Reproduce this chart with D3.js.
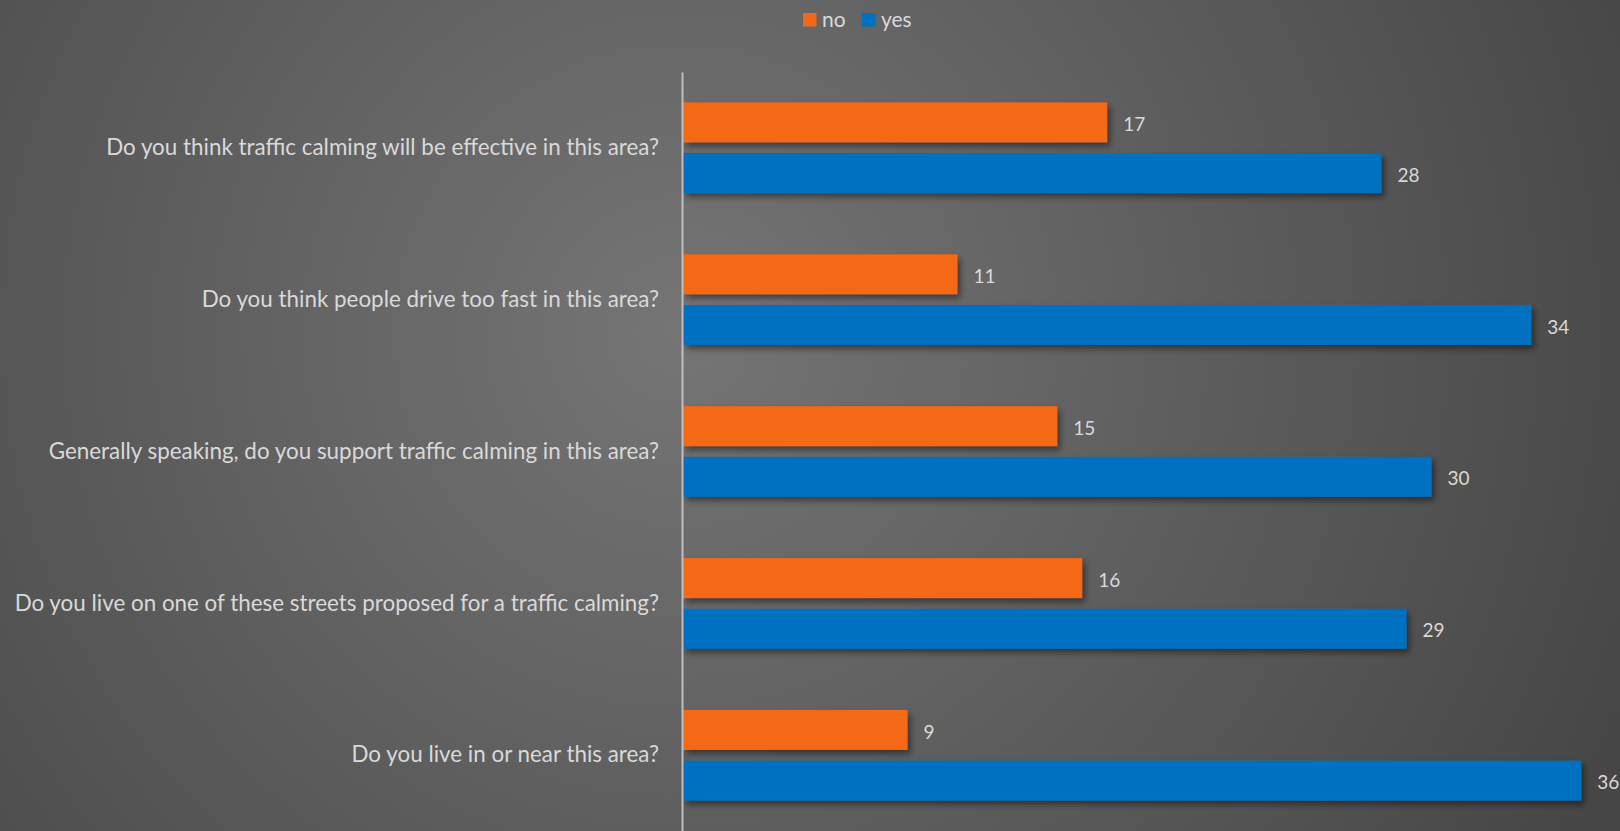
<!DOCTYPE html>
<html>
<head>
<meta charset="utf-8">
<script src="https://cdn.jsdelivr.net/npm/d3@7"></script>
<style>
  html, body { margin: 0; padding: 0; background: #4a4a4a; }
  svg { display: block; }
  text { font-family: Lato, "Open Sans", sans-serif; }
</style>
</head>
<body>
<svg id="chart" width="1620" height="831"></svg>
<script>
// Survey questions, top to bottom
const questions = [
  "Do you think traffic calming will be effective in this area?",
  "Do you think people drive too fast in this area?",
  "Generally speaking, do you support traffic calming in this area?",
  "Do you live on one of these streets proposed for a traffic calming?",
  "Do you live in or near this area?"
];
const seriesNames = ["no", "yes"];
const noValues  = [17, 11, 15, 16, 9];
const yesValues = [28, 34, 30, 29, 36];
const seriesColors = ["#F46717", "#0070C0"];

const W = 1620, H = 831;
const svg = d3.select("#chart");

// Background: soft radial grey gradient
const defs = svg.append("defs");
const bg = defs.append("radialGradient").attr("id", "bgGrad")
  .attr("gradientUnits", "userSpaceOnUse")
  .attr("cx", 680).attr("cy", 330).attr("r", 1050);
bg.append("stop").attr("offset", "0%").attr("stop-color", "#757575");
bg.append("stop").attr("offset", "100%").attr("stop-color", "#454545");
svg.append("rect").attr("width", W).attr("height", H).attr("fill", "url(#bgGrad)");

// Drop shadow under the bars
const sh = defs.append("filter").attr("id", "barShadow")
  .attr("x", "-5%").attr("y", "-30%").attr("width", "115%").attr("height", "180%");
sh.append("feDropShadow").attr("dx", 3).attr("dy", 4).attr("stdDeviation", 3)
  .attr("flood-color", "#000").attr("flood-opacity", 0.45);

const plotLeft = 683, plotTop = 72, plotBottom = 831;

const y = d3.scaleBand().domain(questions).range([plotTop, plotBottom])
  .paddingInner(0.403).paddingOuter(0.2);
const ySub = d3.scaleBand().domain(seriesNames).range([0, y.bandwidth()])
  .paddingInner(0.21);
const x = d3.scaleLinear().domain([0, 36]).range([plotLeft, plotLeft + 36 * 24.95]);

const rows = questions.map((q, i) => ({ q, vals: [noValues[i], yesValues[i]] }));

const groups = svg.append("g").selectAll("g").data(rows).join("g")
  .attr("transform", d => `translate(0,${y(d.q)})`);

groups.selectAll("rect").data(d => d.vals.map((v, j) => ({ v, s: seriesNames[j], c: seriesColors[j] })))
  .join("rect")
  .attr("x", x(0))
  .attr("y", d => ySub(d.s))
  .attr("width", d => x(d.v) - x(0))
  .attr("height", ySub.bandwidth())
  .attr("fill", d => d.c)
  .attr("filter", "url(#barShadow)");

// Value labels
groups.selectAll("text.val").data(d => d.vals.map((v, j) => ({ v, s: seriesNames[j] })))
  .join("text").attr("class", "val")
  .attr("x", d => x(d.v) + 16)
  .attr("y", d => ySub(d.s) + ySub.bandwidth() / 2 + 2)
  .attr("dy", "0.35em")
  .attr("fill", "#d9d9d9")
  .attr("font-size", 19)
  .text(d => d.v);

// Category axis
const yAxis = svg.append("g").attr("transform", `translate(${plotLeft - 1},0)`)
  .call(d3.axisLeft(y).tickSize(0).tickPadding(23));
yAxis.select(".domain").attr("stroke", "#bfbfbf").attr("stroke-width", 2);
yAxis.selectAll(".tick text")
  .attr("fill", "#d9d9d9")
  .attr("font-size", 22.4)
  .attr("font-family", "Lato, 'Open Sans', sans-serif");

// Legend
const legend = svg.append("g").attr("transform", "translate(803,13)");
const legendX = [0, 59];
seriesNames.forEach((name, i) => {
  const g = legend.append("g").attr("transform", `translate(${legendX[i]},0)`);
  g.append("rect").attr("width", 13.5).attr("height", 13.5).attr("fill", seriesColors[i]);
  g.append("text").attr("x", 19).attr("y", 7).attr("dy", "0.35em")
    .attr("fill", "#d9d9d9").attr("font-size", 21).text(name);
});
</script>
</body>
</html>
